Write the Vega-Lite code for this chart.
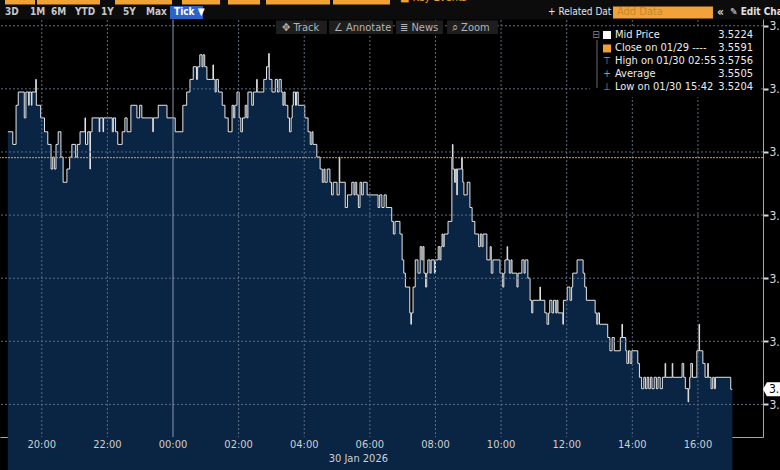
{
"$schema": "https://vega.github.io/schema/vega-lite/v6.json",
"width": 763, "height": 437,
"autosize": {"type": "none"},
"padding": {"left": 0, "top": 0, "right": 17, "bottom": 33},
"background": "#000000",
"config": {"view": {"stroke": null}, "font": "DejaVu Sans Condensed"},
"data": {"values": [{}]},
"datasets": {
"px": [
{"minute":-302,"mid":3.5632},{"minute":-293,"mid":3.5612},{"minute":-287,"mid":3.5674},{"minute":-283,"mid":3.5695},{"minute":-272,"mid":3.5654},{"minute":-269,"mid":3.5695},{"minute":-264,"mid":3.5674},{"minute":-263,"mid":3.5695},{"minute":-259,"mid":3.5674},{"minute":-258,"mid":3.5695},{"minute":-251,"mid":3.5715},{"minute":-250,"mid":3.5674},{"minute":-242,"mid":3.5654},{"minute":-235,"mid":3.5632},{"minute":-229,"mid":3.5612},{"minute":-223,"mid":3.5573},{"minute":-220,"mid":3.5592},{"minute":-217,"mid":3.5573},{"minute":-214,"mid":3.5612},{"minute":-210,"mid":3.5632},{"minute":-205,"mid":3.5592},{"minute":-201,"mid":3.5552},{"minute":-194,"mid":3.5573},{"minute":-189,"mid":3.5592},{"minute":-185,"mid":3.5612},{"minute":-178,"mid":3.5592},{"minute":-175,"mid":3.5612},{"minute":-170,"mid":3.5632},{"minute":-161,"mid":3.5654},{"minute":-160,"mid":3.5612},{"minute":-156,"mid":3.5632},{"minute":-152,"mid":3.5573},{"minute":-151,"mid":3.5632},{"minute":-148,"mid":3.5654},{"minute":-135,"mid":3.5632},{"minute":-134,"mid":3.5654},{"minute":-128,"mid":3.5632},{"minute":-127,"mid":3.5654},{"minute":-111,"mid":3.5632},{"minute":-109,"mid":3.5654},{"minute":-105,"mid":3.5632},{"minute":-101,"mid":3.5612},{"minute":-93,"mid":3.5632},{"minute":-88,"mid":3.5654},{"minute":-84,"mid":3.5632},{"minute":-77,"mid":3.5674},{"minute":-66,"mid":3.5654},{"minute":-61,"mid":3.5674},{"minute":-57,"mid":3.5654},{"minute":-37,"mid":3.5632},{"minute":-36,"mid":3.5654},{"minute":-27,"mid":3.5674},{"minute":-11,"mid":3.5654},
{"minute":4,"mid":3.5632},{"minute":18,"mid":3.5674},{"minute":25,"mid":3.5695},{"minute":31,"mid":3.5715},{"minute":37,"mid":3.5735},{"minute":43,"mid":3.5715},{"minute":45,"mid":3.5735},{"minute":49,"mid":3.5754},{"minute":53,"mid":3.5735},{"minute":55,"mid":3.5754},{"minute":58,"mid":3.5735},{"minute":62,"mid":3.5715},{"minute":73,"mid":3.5738},{"minute":74,"mid":3.5715},{"minute":77,"mid":3.5695},{"minute":79,"mid":3.5715},{"minute":83,"mid":3.5695},{"minute":90,"mid":3.5674},{"minute":95,"mid":3.5654},{"minute":101,"mid":3.5632},{"minute":108,"mid":3.5674},{"minute":111,"mid":3.5654},{"minute":113,"mid":3.5674},{"minute":117,"mid":3.5695},{"minute":121,"mid":3.5654},{"minute":124,"mid":3.5632},{"minute":127,"mid":3.5654},{"minute":132,"mid":3.5674},{"minute":135,"mid":3.5654},{"minute":137,"mid":3.5695},{"minute":144,"mid":3.5674},{"minute":147,"mid":3.5695},{"minute":153,"mid":3.5715},{"minute":154,"mid":3.5695},{"minute":166,"mid":3.5715},{"minute":171,"mid":3.5735},{"minute":175,"mid":3.5756},{"minute":176,"mid":3.5715},{"minute":181,"mid":3.5695},{"minute":187,"mid":3.5715},{"minute":191,"mid":3.5695},{"minute":194,"mid":3.5715},{"minute":198,"mid":3.5695},{"minute":201,"mid":3.5674},{"minute":203,"mid":3.5695},{"minute":205,"mid":3.5674},{"minute":210,"mid":3.5654},{"minute":213,"mid":3.5632},{"minute":216,"mid":3.5654},{"minute":218,"mid":3.5674},{"minute":220,"mid":3.5695},{"minute":224,"mid":3.5674},{"minute":226,"mid":3.5695},{"minute":229,"mid":3.5674},{"minute":241,"mid":3.5654},{"minute":247,"mid":3.5632},{"minute":251,"mid":3.5612},{"minute":254,"mid":3.5632},{"minute":256,"mid":3.5612},{"minute":263,"mid":3.5592},{"minute":269,"mid":3.5573},{"minute":273,"mid":3.5552},{"minute":276,"mid":3.5573},{"minute":278,"mid":3.5552},{"minute":282,"mid":3.5573},{"minute":287,"mid":3.5552},{"minute":290,"mid":3.5532},{"minute":293,"mid":3.5552},{"minute":300,"mid":3.5532},{"minute":304,"mid":3.5592},{"minute":305,"mid":3.5552},{"minute":315,"mid":3.5512},{"minute":319,"mid":3.5532},{"minute":327,"mid":3.5552},{"minute":331,"mid":3.5532},{"minute":333,"mid":3.5552},{"minute":336,"mid":3.5532},{"minute":339,"mid":3.5512},{"minute":342,"mid":3.5552},{"minute":345,"mid":3.5532},{"minute":348,"mid":3.5552},{"minute":355,"mid":3.5532},{"minute":375,"mid":3.5512},{"minute":378,"mid":3.5532},{"minute":382,"mid":3.5512},{"minute":386,"mid":3.5532},{"minute":390,"mid":3.5512},{"minute":400,"mid":3.549},{"minute":403,"mid":3.547},{"minute":406,"mid":3.549},{"minute":415,"mid":3.547},{"minute":419,"mid":3.5429},{"minute":422,"mid":3.5408},{"minute":425,"mid":3.5386},{"minute":433,"mid":3.5345},{"minute":435,"mid":3.5327},{"minute":436,"mid":3.5345},{"minute":439,"mid":3.5386},{"minute":443,"mid":3.5429},{"minute":448,"mid":3.5408},{"minute":452,"mid":3.545},{"minute":455,"mid":3.5429},{"minute":457,"mid":3.545},{"minute":459,"mid":3.5408},{"minute":462,"mid":3.5386},{"minute":464,"mid":3.5408},{"minute":466,"mid":3.5429},{"minute":470,"mid":3.5408},{"minute":472,"mid":3.5429},{"minute":478,"mid":3.5408},{"minute":480,"mid":3.5429},{"minute":485,"mid":3.545},{"minute":488,"mid":3.5429},{"minute":490,"mid":3.545},{"minute":492,"mid":3.547},{"minute":494,"mid":3.545},{"minute":496,"mid":3.547},{"minute":503,"mid":3.549},{"minute":510,"mid":3.5592},{"minute":511,"mid":3.5612},{"minute":512,"mid":3.5573},{"minute":515,"mid":3.5552},{"minute":517,"mid":3.5573},{"minute":519,"mid":3.5532},{"minute":520,"mid":3.5573},{"minute":528,"mid":3.5592},{"minute":529,"mid":3.5573},{"minute":530,"mid":3.5552},{"minute":532,"mid":3.5532},{"minute":538,"mid":3.5552},{"minute":543,"mid":3.5512},{"minute":547,"mid":3.549},{"minute":552,"mid":3.547},{"minute":559,"mid":3.545},{"minute":562,"mid":3.547},{"minute":565,"mid":3.545},{"minute":567,"mid":3.547},{"minute":574,"mid":3.5429},{"minute":580,"mid":3.545},{"minute":582,"mid":3.5408},{"minute":585,"mid":3.5429},{"minute":598,"mid":3.5408},{"minute":603,"mid":3.5386},{"minute":605,"mid":3.5408},{"minute":607,"mid":3.5429},{"minute":611,"mid":3.545},{"minute":612,"mid":3.5429},{"minute":615,"mid":3.5408},{"minute":618,"mid":3.5429},{"minute":620,"mid":3.5408},{"minute":629,"mid":3.5386},{"minute":631,"mid":3.5408},{"minute":638,"mid":3.5429},{"minute":642,"mid":3.5408},{"minute":644,"mid":3.5429},{"minute":649,"mid":3.54},{"minute":653,"mid":3.5365},{"minute":656,"mid":3.5345},{"minute":658,"mid":3.5365},{"minute":671,"mid":3.5386},{"minute":672,"mid":3.5365},{"minute":680,"mid":3.5345},{"minute":684,"mid":3.5327},{"minute":687,"mid":3.5345},{"minute":689,"mid":3.5365},{"minute":693,"mid":3.5345},{"minute":696,"mid":3.5365},{"minute":700,"mid":3.5345},{"minute":702,"mid":3.5365},{"minute":704,"mid":3.5345},{"minute":713,"mid":3.5327},{"minute":714,"mid":3.5365},{"minute":721,"mid":3.5386},{"minute":726,"mid":3.5365},{"minute":729,"mid":3.5386},{"minute":731,"mid":3.5408},{"minute":739,"mid":3.5429},{"minute":750,"mid":3.5408},{"minute":753,"mid":3.5386},{"minute":756,"mid":3.5365},{"minute":772,"mid":3.5345},{"minute":775,"mid":3.5327},{"minute":777,"mid":3.5345},{"minute":780,"mid":3.5327},{"minute":795,"mid":3.5306},{"minute":799,"mid":3.5285},{"minute":803,"mid":3.5306},{"minute":807,"mid":3.5285},{"minute":818,"mid":3.5306},{"minute":821,"mid":3.5327},{"minute":822,"mid":3.5306},{"minute":828,"mid":3.5285},{"minute":830,"mid":3.5265},{"minute":833,"mid":3.5285},{"minute":836,"mid":3.5265},{"minute":839,"mid":3.5285},{"minute":850,"mid":3.5265},{"minute":853,"mid":3.5243},{"minute":857,"mid":3.5225},{"minute":861,"mid":3.5243},{"minute":864,"mid":3.5225},{"minute":867,"mid":3.5243},{"minute":870,"mid":3.5225},{"minute":873,"mid":3.5243},{"minute":876,"mid":3.5225},{"minute":880,"mid":3.5243},{"minute":884,"mid":3.5225},{"minute":887,"mid":3.5243},{"minute":891,"mid":3.5225},{"minute":895,"mid":3.5243},{"minute":900,"mid":3.5265},{"minute":901,"mid":3.5243},{"minute":913,"mid":3.5265},{"minute":914,"mid":3.5243},{"minute":931,"mid":3.5265},{"minute":934,"mid":3.5243},{"minute":937,"mid":3.5225},{"minute":942,"mid":3.5204},{"minute":943,"mid":3.5225},{"minute":945,"mid":3.5243},{"minute":947,"mid":3.5265},{"minute":950,"mid":3.5243},{"minute":958,"mid":3.5285},{"minute":962,"mid":3.5327},{"minute":963,"mid":3.5285},{"minute":969,"mid":3.5265},{"minute":973,"mid":3.5243},{"minute":978,"mid":3.5265},{"minute":979,"mid":3.5243},{"minute":984,"mid":3.5225},{"minute":987,"mid":3.5243},{"minute":990,"mid":3.5225},{"minute":992,"mid":3.5243},{"minute":1020,"mid":3.5224},{"minute":1023,"mid":3.5224}
]
},
"layer": [
{"data": {"name": "px"}, "mark": {"type": "area", "interpolate": "step-after", "color": "#0a2444"},
 "encoding": {
  "x": {"field": "minute", "type": "quantitative", "title": null,
   "scale": {"domain": [-316.4, 1079], "zero": false, "nice": false},
   "axis": {"values": [-300,-240,-180,-120,-60,0,60,120,180,240,300,360,420,480,540,600,660,720,780,840,900,960,1020], "labels": false, "grid": false, "domainColor": "#a8a8a8", "tickColor": "#a8a8a8", "tickSize": 4, "title": null}},
  "y": {"field": "mid", "type": "quantitative", "title": null,
   "scale": {"domain": [3.51484, 3.58408], "zero": false, "nice": false},
   "axis": {"orient": "right", "values": [3.52,3.53,3.54,3.55,3.56,3.57,3.58], "format": ".2f", "grid": false, "domainColor": "#a8a8a8", "tickColor": "#d8d8d8", "tickSize": 5, "tickWidth": 2, "labelColor": "#d8d8d8", "labelFontSize": 12, "labelPadding": 1, "title": null}}}},
{"data": {"name": "px"}, "mark": {"type": "line", "interpolate": "step-after", "color": "#e6e6e6", "strokeWidth": 1},
 "encoding": {"x": {"field": "minute", "type": "quantitative", "title": null}, "y": {"field": "mid", "type": "quantitative", "title": null}}},
{"mark": {"type": "rule", "color": "#5d6b80", "strokeWidth": 1, "strokeDash": [2, 2]}, "encoding": {"y": {"datum": 3.52}}},
{"mark": {"type": "rule", "color": "#5d6b80", "strokeWidth": 1, "strokeDash": [2, 2]}, "encoding": {"y": {"datum": 3.53}}},
{"mark": {"type": "rule", "color": "#5d6b80", "strokeWidth": 1, "strokeDash": [2, 2]}, "encoding": {"y": {"datum": 3.54}}},
{"mark": {"type": "rule", "color": "#5d6b80", "strokeWidth": 1, "strokeDash": [2, 2]}, "encoding": {"y": {"datum": 3.55}}},
{"mark": {"type": "rule", "color": "#5d6b80", "strokeWidth": 1, "strokeDash": [2, 2]}, "encoding": {"y": {"datum": 3.56}}},
{"mark": {"type": "rule", "color": "#5d6b80", "strokeWidth": 1, "strokeDash": [2, 2]}, "encoding": {"y": {"datum": 3.57}}},
{"mark": {"type": "rule", "color": "#5d6b80", "strokeWidth": 1, "strokeDash": [2, 2]}, "encoding": {"y": {"datum": 3.58}}},
{"mark": {"type": "rule", "color": "#5d6b80", "strokeWidth": 1, "strokeDash": [2, 2]}, "encoding": {"x": {"datum": -240}}},
{"mark": {"type": "rule", "color": "#5d6b80", "strokeWidth": 1, "strokeDash": [2, 2]}, "encoding": {"x": {"datum": -120}}},
{"mark": {"type": "rule", "color": "#5d6b80", "strokeWidth": 1, "strokeDash": [2, 2]}, "encoding": {"x": {"datum": 120}}},
{"mark": {"type": "rule", "color": "#5d6b80", "strokeWidth": 1, "strokeDash": [2, 2]}, "encoding": {"x": {"datum": 240}}},
{"mark": {"type": "rule", "color": "#5d6b80", "strokeWidth": 1, "strokeDash": [2, 2]}, "encoding": {"x": {"datum": 360}}},
{"mark": {"type": "rule", "color": "#5d6b80", "strokeWidth": 1, "strokeDash": [2, 2]}, "encoding": {"x": {"datum": 480}}},
{"mark": {"type": "rule", "color": "#5d6b80", "strokeWidth": 1, "strokeDash": [2, 2]}, "encoding": {"x": {"datum": 600}}},
{"mark": {"type": "rule", "color": "#5d6b80", "strokeWidth": 1, "strokeDash": [2, 2]}, "encoding": {"x": {"datum": 720}}},
{"mark": {"type": "rule", "color": "#5d6b80", "strokeWidth": 1, "strokeDash": [2, 2]}, "encoding": {"x": {"datum": 840}}},
{"mark": {"type": "rule", "color": "#5d6b80", "strokeWidth": 1, "strokeDash": [2, 2]}, "encoding": {"x": {"datum": 960}}},
{"mark": {"type": "rule", "color": "#8898b0", "strokeWidth": 1}, "encoding": {"x": {"datum": 0}}},
{"mark": {"type": "rule", "color": "#ec952e", "strokeWidth": 1, "strokeDash": [2, 1]}, "encoding": {"y": {"datum": 3.5591}}},
{"mark": {"type": "text", "text": "20:00", "color": "#cfcfcf", "fontSize": 11, "align": "center", "baseline": "middle"}, "encoding": {"x": {"datum": -240}, "y": {"datum": 3.51357}}},
{"mark": {"type": "text", "text": "22:00", "color": "#cfcfcf", "fontSize": 11, "align": "center", "baseline": "middle"}, "encoding": {"x": {"datum": -120}, "y": {"datum": 3.51357}}},
{"mark": {"type": "text", "text": "00:00", "color": "#cfcfcf", "fontSize": 11, "align": "center", "baseline": "middle"}, "encoding": {"x": {"datum": 0}, "y": {"datum": 3.51357}}},
{"mark": {"type": "text", "text": "02:00", "color": "#cfcfcf", "fontSize": 11, "align": "center", "baseline": "middle"}, "encoding": {"x": {"datum": 120}, "y": {"datum": 3.51357}}},
{"mark": {"type": "text", "text": "04:00", "color": "#cfcfcf", "fontSize": 11, "align": "center", "baseline": "middle"}, "encoding": {"x": {"datum": 240}, "y": {"datum": 3.51357}}},
{"mark": {"type": "text", "text": "06:00", "color": "#cfcfcf", "fontSize": 11, "align": "center", "baseline": "middle"}, "encoding": {"x": {"datum": 360}, "y": {"datum": 3.51357}}},
{"mark": {"type": "text", "text": "08:00", "color": "#cfcfcf", "fontSize": 11, "align": "center", "baseline": "middle"}, "encoding": {"x": {"datum": 480}, "y": {"datum": 3.51357}}},
{"mark": {"type": "text", "text": "10:00", "color": "#cfcfcf", "fontSize": 11, "align": "center", "baseline": "middle"}, "encoding": {"x": {"datum": 600}, "y": {"datum": 3.51357}}},
{"mark": {"type": "text", "text": "12:00", "color": "#cfcfcf", "fontSize": 11, "align": "center", "baseline": "middle"}, "encoding": {"x": {"datum": 720}, "y": {"datum": 3.51357}}},
{"mark": {"type": "text", "text": "14:00", "color": "#cfcfcf", "fontSize": 11, "align": "center", "baseline": "middle"}, "encoding": {"x": {"datum": 840}, "y": {"datum": 3.51357}}},
{"mark": {"type": "text", "text": "16:00", "color": "#cfcfcf", "fontSize": 11, "align": "center", "baseline": "middle"}, "encoding": {"x": {"datum": 960}, "y": {"datum": 3.51357}}},
{"mark": {"type": "rect", "color": "#0c0c0c"}, "encoding": {"x": {"datum": -330}, "x2": {"datum": 1110}, "y": {"datum": 3.586}, "y2": {"datum": 3.58099}}},
{"mark": {"type": "rect", "color": "#f2a233"}, "encoding": {"x": {"datum": -307.3}, "x2": {"datum": -252.4}, "y": {"datum": 3.586}, "y2": {"datum": 3.58337}}},
{"mark": {"type": "rect", "color": "#f2a233"}, "encoding": {"x": {"datum": -248.7}, "x2": {"datum": -133.5}, "y": {"datum": 3.586}, "y2": {"datum": 3.58337}}},
{"mark": {"type": "rect", "color": "#f2a233"}, "encoding": {"x": {"datum": -106.1}, "x2": {"datum": -1.8}, "y": {"datum": 3.586}, "y2": {"datum": 3.58337}}},
{"mark": {"type": "rect", "color": "#f2a233"}, "encoding": {"x": {"datum": 16.4}, "x2": {"datum": 86.0}, "y": {"datum": 3.586}, "y2": {"datum": 3.58337}}},
{"mark": {"type": "rect", "color": "#f2a233"}, "encoding": {"x": {"datum": 100.6}, "x2": {"datum": 159.1}, "y": {"datum": 3.586}, "y2": {"datum": 3.58337}}},
{"mark": {"type": "rect", "color": "#f2a233"}, "encoding": {"x": {"datum": 170.1}, "x2": {"datum": 287.1}, "y": {"datum": 3.586}, "y2": {"datum": 3.58337}}},
{"mark": {"type": "rect", "color": "#f2a233"}, "encoding": {"x": {"datum": 292.6}, "x2": {"datum": 396.8}, "y": {"datum": 3.586}, "y2": {"datum": 3.58337}}},
{"mark": {"type": "text", "text": "■ Key Events", "color": "#f0a030", "fontSize": 11, "align": "left", "baseline": "middle"}, "encoding": {"x": {"datum": 415.1}, "y": {"datum": 3.5844}}},
{"mark": {"type": "text", "text": "3D", "color": "#c8c8c8", "fontSize": 10, "fontWeight": "bold", "align": "left", "baseline": "middle"}, "encoding": {"x": {"datum": -307.3}, "y": {"datum": 3.5821}}},
{"mark": {"type": "text", "text": "1M", "color": "#c8c8c8", "fontSize": 10, "fontWeight": "bold", "align": "left", "baseline": "middle"}, "encoding": {"x": {"datum": -261.5}, "y": {"datum": 3.5821}}},
{"mark": {"type": "text", "text": "6M", "color": "#c8c8c8", "fontSize": 10, "fontWeight": "bold", "align": "left", "baseline": "middle"}, "encoding": {"x": {"datum": -223.1}, "y": {"datum": 3.5821}}},
{"mark": {"type": "text", "text": "YTD", "color": "#c8c8c8", "fontSize": 10, "fontWeight": "bold", "align": "left", "baseline": "middle"}, "encoding": {"x": {"datum": -179.2}, "y": {"datum": 3.5821}}},
{"mark": {"type": "text", "text": "1Y", "color": "#c8c8c8", "fontSize": 10, "fontWeight": "bold", "align": "left", "baseline": "middle"}, "encoding": {"x": {"datum": -131.7}, "y": {"datum": 3.5821}}},
{"mark": {"type": "text", "text": "5Y", "color": "#c8c8c8", "fontSize": 10, "fontWeight": "bold", "align": "left", "baseline": "middle"}, "encoding": {"x": {"datum": -91.4}, "y": {"datum": 3.5821}}},
{"mark": {"type": "text", "text": "Max", "color": "#c8c8c8", "fontSize": 10, "fontWeight": "bold", "align": "left", "baseline": "middle"}, "encoding": {"x": {"datum": -49.4}, "y": {"datum": 3.5821}}},
{"mark": {"type": "rect", "color": "#2d63c8"}, "encoding": {"x": {"datum": -5.5}, "x2": {"datum": 54.8}, "y": {"datum": 3.58313}, "y2": {"datum": 3.58107}}},
{"mark": {"type": "text", "text": "Tick ▼", "color": "#ffffff", "fontSize": 10, "fontWeight": "bold", "align": "left", "baseline": "middle"}, "encoding": {"x": {"datum": 1.8}, "y": {"datum": 3.5821}}},
{"mark": {"type": "text", "text": "+ Related Dat", "color": "#e4e4e4", "fontSize": 10, "align": "left", "baseline": "middle"}, "encoding": {"x": {"datum": 685.8}, "y": {"datum": 3.5821}}},
{"mark": {"type": "rect", "color": "#f2a23a"}, "encoding": {"x": {"datum": 804.7}, "x2": {"datum": 987.5}, "y": {"datum": 3.58305}, "y2": {"datum": 3.58115}}},
{"mark": {"type": "text", "text": "Add Data", "color": "#c9862a", "fontSize": 11, "align": "left", "baseline": "middle"}, "encoding": {"x": {"datum": 812.0}, "y": {"datum": 3.5821}}},
{"mark": {"type": "text", "text": "«", "color": "#d0d0d0", "fontSize": 12, "fontWeight": "bold", "align": "left", "baseline": "middle"}, "encoding": {"x": {"datum": 994.9}, "y": {"datum": 3.5821}}},
{"mark": {"type": "text", "text": "✎ Edit Chart", "color": "#e0e0e0", "fontSize": 10, "fontWeight": "bold", "align": "left", "baseline": "middle"}, "encoding": {"x": {"datum": 1018.6}, "y": {"datum": 3.5821}}},
{"mark": {"type": "rect", "color": "#1e1e1e"}, "encoding": {"x": {"datum": 188.4}, "x2": {"datum": 281.6}, "y": {"datum": 3.58083}, "y2": {"datum": 3.57869}}},
{"mark": {"type": "rect", "color": "#1e1e1e"}, "encoding": {"x": {"datum": 285.3}, "x2": {"datum": 402.3}, "y": {"datum": 3.58083}, "y2": {"datum": 3.57869}}},
{"mark": {"type": "rect", "color": "#1e1e1e"}, "encoding": {"x": {"datum": 407.8}, "x2": {"datum": 493.8}, "y": {"datum": 3.58083}, "y2": {"datum": 3.57869}}},
{"mark": {"type": "rect", "color": "#1e1e1e"}, "encoding": {"x": {"datum": 501.1}, "x2": {"datum": 594.3}, "y": {"datum": 3.58083}, "y2": {"datum": 3.57869}}},
{"mark": {"type": "text", "text": "✥  Track", "color": "#b4b4b4", "fontSize": 11, "align": "left", "baseline": "middle"}, "encoding": {"x": {"datum": 199.3}, "y": {"datum": 3.57972}}},
{"mark": {"type": "text", "text": "∠  Annotate", "color": "#b4b4b4", "fontSize": 11, "align": "left", "baseline": "middle"}, "encoding": {"x": {"datum": 294.4}, "y": {"datum": 3.57972}}},
{"mark": {"type": "text", "text": "≣  News", "color": "#b4b4b4", "fontSize": 11, "align": "left", "baseline": "middle"}, "encoding": {"x": {"datum": 415.1}, "y": {"datum": 3.57972}}},
{"mark": {"type": "text", "text": "⌕  Zoom", "color": "#b4b4b4", "fontSize": 11, "align": "left", "baseline": "middle"}, "encoding": {"x": {"datum": 510.2}, "y": {"datum": 3.57972}}},
{"mark": {"type": "rect", "color": "#000000"}, "encoding": {"x": {"datum": 762.6}, "x2": {"datum": 1073.5}, "y": {"datum": 3.5798}, "y2": {"datum": 3.56871}}},
{"mark": {"type": "text", "text": "⊟", "color": "#8a8a8a", "fontSize": 10, "align": "center", "baseline": "middle"}, "encoding": {"x": {"datum": 773.6}, "y": {"datum": 3.57853}}},
{"mark": {"type": "rule", "color": "#6a6a6a", "strokeWidth": 1}, "encoding": {"x": {"datum": 775.4}, "y": {"datum": 3.57774}, "y2": {"datum": 3.57014}}},
{"mark": {"type": "square", "color": "#ffffff", "size": 64, "opacity": 1}, "encoding": {"x": {"datum": 793.7}, "y": {"datum": 3.57853}}},
{"mark": {"type": "square", "color": "#f0a030", "size": 64, "opacity": 1}, "encoding": {"x": {"datum": 793.7}, "y": {"datum": 3.5764}}},
{"mark": {"type": "text", "text": ["⊤", "+", "⊥"], "color": "#9a9a9a", "fontSize": 10, "lineHeight": 13, "align": "center", "baseline": "middle"}, "encoding": {"x": {"datum": 793.7}, "y": {"datum": 3.57434}}},
{"mark": {"type": "text", "text": ["Mid Price", "Close on 01/29 ----", "High on 01/30 02:55", "Average", "Low on 01/30 15:42"], "color": "#ececec", "fontSize": 11, "lineHeight": 13.1, "align": "left", "baseline": "middle"}, "encoding": {"x": {"datum": 808.3}, "y": {"datum": 3.57853}}},
{"mark": {"type": "text", "text": ["3.5224", "3.5591", "3.5756", "3.5505", "3.5204"], "color": "#ececec", "fontSize": 11, "lineHeight": 13.1, "align": "right", "baseline": "middle"}, "encoding": {"x": {"datum": 1060.7}, "y": {"datum": 3.57853}}},
{"mark": {"type": "point", "shape": "M -1 0 L -0.72 -0.5 L 1 -0.5 L 1 0.5 L -0.72 0.5 Z", "size": 784, "filled": true, "color": "#ffffff", "opacity": 1, "xOffset": 14}, "encoding": {"x": {"datum": 1079}, "y": {"datum": 3.5224}}},
{"mark": {"type": "text", "text": "3.5224", "color": "#000000", "fontSize": 12, "align": "left", "baseline": "middle", "dx": 6}, "encoding": {"x": {"datum": 1079}, "y": {"datum": 3.5224}}},
{"mark": {"type": "text", "text": "30 Jan 2026", "color": "#cfcfcf", "fontSize": 11, "align": "right", "baseline": "middle"}, "encoding": {"x": {"datum": 393.2}, "y": {"datum": 3.51136}}}
]
}
